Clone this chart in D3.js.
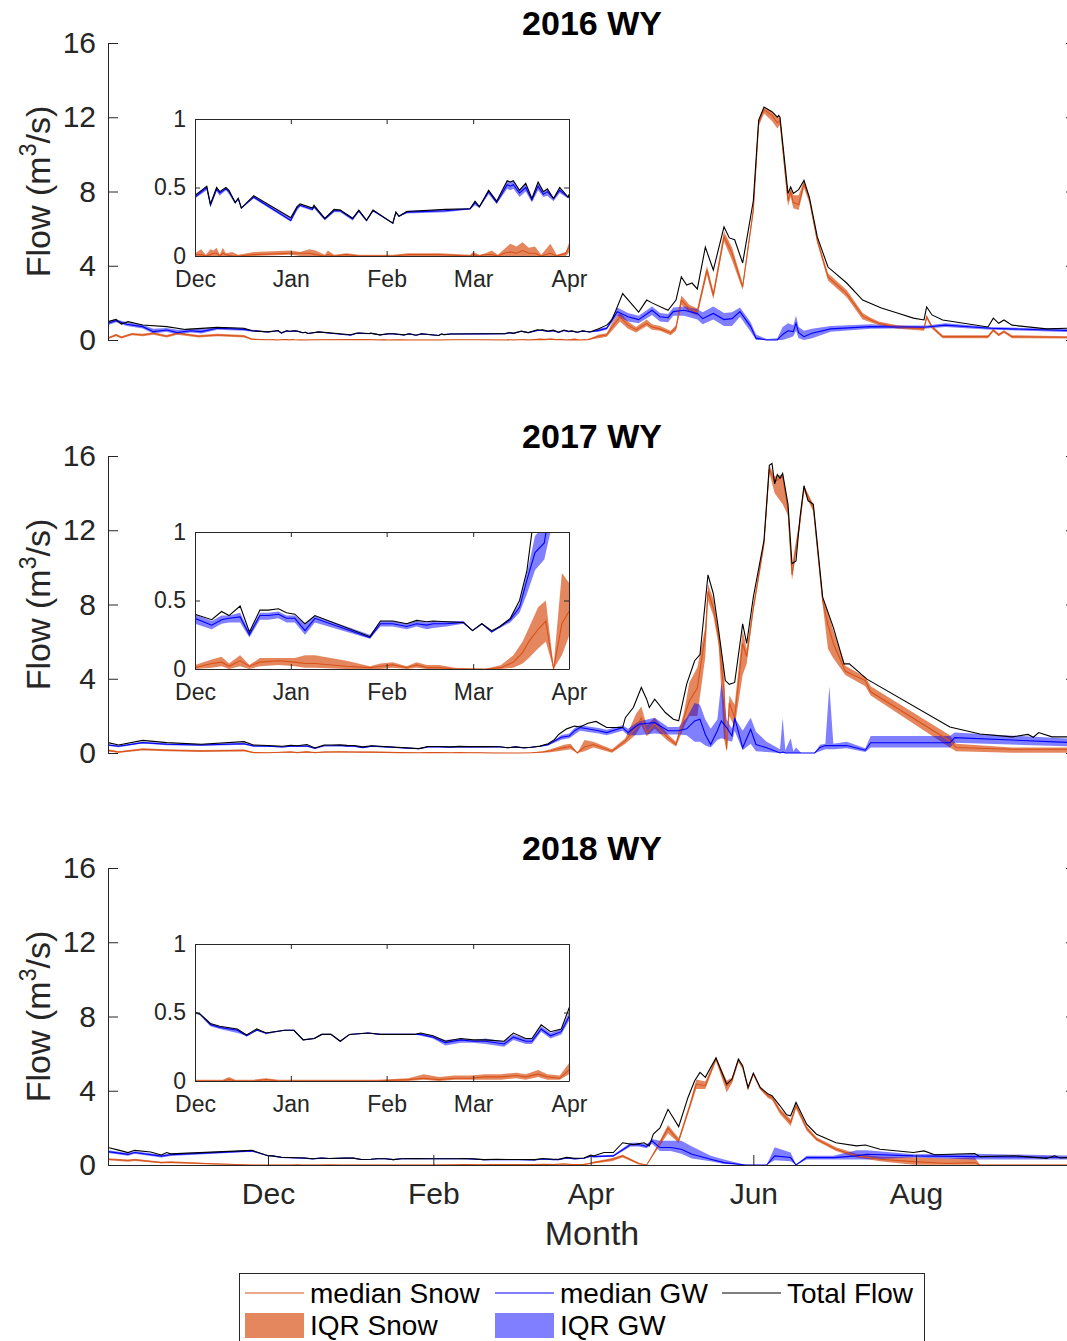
<!DOCTYPE html>
<html><head><meta charset="utf-8">
<script src="https://cdn.jsdelivr.net/npm/d3@7"></script>
<style>
body{margin:0;background:#fff}
svg{display:block}
text{font-family:"Liberation Sans",Arial,Helvetica,sans-serif;fill:#262626}
</style>
</head><body>
<svg id="c" width="1067" height="1341"></svg>
<script>
// ---- tick labels / categories ----
const titles = ["2016 WY", "2017 WY", "2018 WY"];
const monthTickDays = [61, 123, 182, 243, 304];
const monthTickLabels = ["Dec", "Feb", "Apr", "Jun", "Aug"];
const insetTickDays = [61, 92, 123, 151, 182];
const insetTickLabels = ["Dec", "Jan", "Feb", "Mar", "Apr"];
const yTickValues = [0, 4, 8, 12, 16];
const insetYTickValues = [0, 0.5, 1];
const insetYTickLabels = ["0", "0.5", "1"];
const legendLabels = ["median Snow", "median GW", "Total Flow", "IQR Snow", "IQR GW"];

// ---- data: day of water year (1 = Oct 1) ----
// total: [day, flow]; snow / gw: [day, q25, median, q75]
const total2016 = [[1,0.99],[4,1.11],[6,0.86],[8.5,0.99],[14,0.81],[23,0.72],[30,0.57],[42,0.68],[52,0.63],[55,0.5],
[61,0.44],[64.8,0.51],[66,0.38],[68,0.50],[69,0.47],[71,0.50],[72,0.48],[74,0.39],[75,0.42],[76,0.35],[80,0.44],[92,0.28],[94,0.36],[95,0.38],[99,0.35],[99.5,0.37],[103,0.275],[106,0.34],[108,0.335],[112,0.275],[114,0.335],[116.5,0.26],[118.6,0.335],[125,0.24],[126,0.32],[127,0.29],[129.5,0.325],[142,0.34],[150,0.345],[151.6,0.40],[153,0.36],[156,0.48],[158.6,0.40],[162,0.55],[163,0.54],[164,0.55],[166,0.48],[168,0.53],[170,0.42],[172,0.54],[173.7,0.47],[175,0.49],[177,0.42],[179,0.50],[181.7,0.43],
[185,0.6],[188,0.8],[190,1.08],[194,2.5],[200,1.5],[203,2.15],[205,2.0],[211,1.6],[214,2.15],[216,3.4],[218,2.96],[220,3.07],[222,2.75],[225,5.0],[228,3.77],[232,6.1],[234,5.5],[236,5.4],[239,4.15],[243,7.5],[245,11.85],[247,12.55],[250,12.3],[252,12.0],[252.5,12.1],[253,12.0],[256,7.9],[257,8.25],[258,7.9],[260,8.1],[262,8.6],[264,7.7],[267,5.55],[271,3.93],[278,3.07],[284,2.15],[291,1.72],[297,1.45],[303,1.18],[307,1.08],[308,1.78],[310,1.35],[314,1.08],[331,0.7],[333,1.18],[335,0.9],[337,1.08],[340,0.8],[353,0.6],[364,0.65]];

const snow2016 = [[1,0.05,0.09,0.15],[4,0.2,0.27,0.33],[6,0.08,0.14,0.2],[10,0.25,0.32,0.38],[14,0.2,0.27,0.33],[18,0.28,0.36,0.42],[23,0.13,0.2,0.27],[27,0.28,0.36,0.42],[35,0.13,0.2,0.27],[42,0.2,0.27,0.33],[52,0.13,0.2,0.27],[55,0.0,0.04,0.08],
[61,0,0.01,0.02],[63,0,0.01,0.05],[64.5,0,0,0.01],[66,0,0.01,0.05],[67,0,0.02,0.04],[68,0,0.02,0.06],[69,0,0,0.01],[70,0,0.02,0.06],[71,0,0.01,0.02],[73,0,0,0.03],[75,0,0,0.01],[80,0,0.01,0.03],[92,0.01,0.02,0.04],[95,0,0.02,0.03],[98,0,0.02,0.05],[100,0,0.01,0.04],[103,0,0,0.01],[104,0,0.01,0.04],[106,0,0,0.01],[110,0,0.01,0.02],[114,0,0,0.01],[125,0,0,0.01],[130,0,0.01,0.02],[140,0,0.01,0.02],[150,0,0,0.01],[151,0,0.01,0.03],[153,0,0,0.01],[155,0,0.01,0.02],[157,0,0.01,0.04],[159,0,0,0.01],[161,0,0.02,0.05],[163,0,0.03,0.09],[165,0,0.02,0.07],[167,0,0.04,0.1],[169,0,0.02,0.06],[171,0,0.02,0.07],[173,0,0,0.01],[176,0,0.02,0.09],[178,0,0,0.01],[181,0,0.02,0.03],
[185,0.1,0.2,0.3],[188,0.18,0.27,0.36],[190,0.5,0.7,0.9],[193,1.0,1.25,1.5],[196,0.6,0.8,1.0],[199,0.4,0.54,0.7],[203,0.75,0.9,1.1],[205,0.55,0.7,0.85],[208,0.5,0.6,0.75],[212,0.25,0.38,0.5],[214,0.5,0.65,0.8],[216,1.9,2.15,2.4],[219,1.5,1.7,1.9],[222,1.3,1.5,1.7],[225.6,3.5,3.77,4.0],[228,2.2,2.4,2.65],[232,5.3,5.57,5.85],[235,4.3,4.67,5.0],[239,2.7,2.87,3.05],[243,6.8,7.0,7.2],[245,11.5,11.7,11.85],[247,12.2,12.4,12.55],[250,11.8,12.1,12.3],[252,11.4,11.7,12.0],[253,11.6,11.8,12.0],[256,7.2,7.5,7.9],[257,7.7,8.0,8.2],[258,7.1,7.4,7.8],[260,7.0,7.3,7.8],[262,8.2,8.4,8.6],[264,7.4,7.6,7.7],[267,5.2,5.35,5.5],[271,3.2,3.4,3.6],[278,2.3,2.5,2.7],[284,1.1,1.3,1.45],[287,0.95,1.08,1.2],[290,0.8,0.9,1.0],[297,0.6,0.7,0.8],[307,0.5,0.6,0.7],[308,1.15,1.25,1.35],[310,0.6,0.7,0.8],[314,0.1,0.18,0.26],[331,0.1,0.18,0.26],[333,0.45,0.54,0.6],[335,0.2,0.27,0.35],[337,0.38,0.45,0.52],[340,0.1,0.18,0.26],[364,0.08,0.14,0.2]];

const gw2016 = [[1,0.8,0.9,1.0],[4,0.95,1.04,1.12],[8,0.75,0.85,0.95],[14,0.62,0.72,0.82],[18,0.35,0.45,0.6],[23,0.45,0.54,0.65],[27,0.3,0.4,0.55],[32,0.4,0.5,0.6],[36,0.35,0.45,0.6],[42,0.55,0.63,0.7],[52,0.5,0.57,0.63],[55,0.45,0.5,0.55],
[61,0.42,0.43,0.45],[64.8,0.48,0.50,0.51],[66,0.36,0.37,0.38],[68,0.47,0.49,0.50],[69,0.44,0.46,0.47],[71,0.48,0.49,0.50],[72,0.45,0.47,0.48],[74,0.38,0.39,0.39],[75,0.41,0.42,0.42],[76,0.35,0.35,0.35],[80,0.42,0.43,0.44],[92,0.25,0.26,0.28],[94,0.33,0.35,0.36],[95,0.36,0.37,0.38],[99,0.33,0.34,0.35],[99.5,0.35,0.36,0.37],[103,0.26,0.27,0.28],[106,0.32,0.33,0.34],[108,0.32,0.33,0.34],[112,0.26,0.27,0.28],[114,0.32,0.33,0.34],[116.5,0.25,0.26,0.26],[118.6,0.33,0.33,0.34],[125,0.24,0.24,0.24],[126,0.31,0.32,0.32],[127,0.29,0.29,0.29],[129.5,0.31,0.32,0.33],[142,0.32,0.33,0.34],[150,0.34,0.345,0.35],[151.6,0.37,0.39,0.40],[153,0.35,0.36,0.36],[156,0.45,0.47,0.48],[158.6,0.38,0.39,0.40],[162,0.49,0.52,0.55],[163,0.48,0.51,0.54],[164,0.49,0.52,0.55],[166,0.43,0.46,0.48],[168,0.47,0.50,0.53],[170,0.39,0.41,0.42],[172,0.48,0.51,0.54],[173.7,0.43,0.45,0.47],[175,0.44,0.47,0.49],[177,0.40,0.42,0.42],[179,0.46,0.48,0.50],[181.7,0.42,0.43,0.43],
[185,0.45,0.52,0.6],[188,0.55,0.63,0.7],[192,1.3,1.53,1.75],[196,1.0,1.25,1.45],[200,0.9,1.1,1.3],[205,1.35,1.6,1.8],[208,1.0,1.25,1.45],[211,0.95,1.2,1.4],[213,1.3,1.53,1.75],[217,1.3,1.6,1.8],[222,1.1,1.43,1.65],[224,0.85,1.15,1.5],[228,1.1,1.43,1.8],[232,0.75,1.1,1.45],[235,0.75,1.15,1.5],[238,1.25,1.53,1.75],[242,0.45,0.72,0.95],[244,0,0.1,0.3],[248,0,0,0.05],[252,0,0,0.1],[254,0,0.3,0.7],[256,0.1,0.5,0.9],[258,0.2,0.45,0.8],[259,0.5,0.9,1.3],[260,0.1,0.4,0.7],[262,0,0.18,0.5],[265,0.1,0.36,0.6],[272,0.45,0.6,0.75],[287,0.6,0.72,0.85],[297,0.62,0.7,0.78],[308,0.62,0.7,0.78],[315,0.7,0.8,0.9],[332,0.55,0.63,0.7],[364,0.42,0.5,0.58]];

const total2017 = [[1,0.56],[5,0.43],[14,0.68],[23,0.56],[36,0.47],[52,0.61],[55.5,0.43],
[61,0.40],[66.4,0.36],[69.6,0.42],[72,0.39],[75.6,0.46],[78.6,0.27],[82,0.43],[84.7,0.43],[88,0.44],[90.6,0.41],[93.3,0.40],[96.6,0.33],[99.8,0.39],[117.6,0.236],[121,0.35],[125,0.35],[129.5,0.33],[132.7,0.355],[136,0.345],[138,0.35],[142.4,0.345],[147.8,0.34],[150.8,0.28],[153.8,0.33],[157,0.28],[159.7,0.31],[163,0.37],[166,0.50],[168.4,0.72],[170,1.0],[173,1.3],[176,1.45],[178,1.4],
[181,1.6],[184,1.7],[188,1.37],[194,1.37],[195,1.9],[198,2.45],[201,3.53],[203,2.9],[204,2.45],[206,2.9],[210,2.18],[213,1.82],[215,1.73],[218,3.71],[221,4.97],[223,5.3],[226,9.6],[228,8.58],[230,6.6],[232.5,3.9],[234,3.7],[236,3.8],[239,6.96],[240.5,5.9],[243,8.4],[247,11.46],[249,15.5],[250,15.6],[251,14.5],[252,15.0],[253,14.8],[254,15.06],[256,13.4],[257.5,10.2],[259,10.35],[260.5,12.7],[262,14.4],[263.5,13.6],[265.5,13.4],[269,8.4],[273,6.77],[277,4.8],[279,4.8],[285.6,3.98],[316.7,1.4],[328,1.02],[340,0.87],[346,1.0],[348,0.85],[350,1.1],[355,0.87],[364,0.87]];

const snow2017 = [[1,0.08,0.14,0.2],[5,0.02,0.05,0.1],[14,0.14,0.2,0.26],[23,0.1,0.15,0.2],[36,0.06,0.11,0.16],[52,0.09,0.14,0.19],[55.5,0,0.02,0.05],
[61,0,0.01,0.03],[66.4,0.01,0.04,0.07],[69.6,0.02,0.05,0.09],[72,0,0.02,0.04],[75.6,0.02,0.06,0.1],[78.6,0,0.02,0.03],[82,0.02,0.05,0.08],[88,0.03,0.06,0.08],[93.3,0.02,0.05,0.08],[96.6,0.01,0.04,0.1],[99.8,0.01,0.04,0.1],[110,0,0.02,0.06],[117.6,0,0.01,0.02],[121,0,0.02,0.04],[125,0.01,0.03,0.05],[129.5,0,0.01,0.02],[132.7,0.01,0.03,0.05],[136,0,0.01,0.03],[140,0,0.01,0.03],[145,0,0,0.01],[155,0,0,0],[160,0,0.01,0.03],[164,0.01,0.05,0.1],[167,0.04,0.12,0.2],[169,0.08,0.2,0.3],[172,0.15,0.29,0.45],[174.5,0.2,0.35,0.5],[177,0,0,0.02],[179.7,0.1,0.33,0.7],
[183,0.3,0.46,0.6],[190,0.02,0.1,0.2],[195,0.5,0.65,0.8],[199,1.0,1.37,2.1],[201,1.5,1.9,2.5],[203,0.9,1.1,1.5],[206,1.3,1.55,1.9],[211,0.65,0.83,1.0],[214,0.35,0.46,0.6],[217,1.4,1.9,2.2],[219,2.0,2.8,3.8],[222,2.0,3.5,4.6],[225,5.2,6.4,6.8],[226,8.2,8.7,9.1],[228,7.4,7.8,8.3],[230,5.8,6.2,6.6],[232,0.8,3.3,4.6],[233,0.05,0.2,0.6],[234,2.0,2.7,3.1],[236,1.4,1.9,2.6],[239,4.2,5.9,6.6],[240.5,4.8,5.2,5.6],[243,7.6,7.8,8.0],[247,11.1,11.3,11.5],[249,15.1,15.3,15.5],[251,14.0,14.6,14.9],[254,13.4,14.9,15.0],[256,12.8,13.1,13.3],[257.5,9.3,9.6,10.1],[260.5,12.2,12.5,12.7],[262,14.1,14.3,14.4],[265.5,13.0,13.2,13.4],[269,8.0,8.2,8.4],[271,5.6,6.9,7.6],[273,5.1,5.9,6.6],[277.5,4.2,4.4,4.7],[285,3.6,3.9,4.1],[287,3.1,3.3,3.6],[316.7,0.3,0.65,0.95],[319,0.1,0.3,0.5],[340,0.02,0.2,0.3],[364,0.02,0.2,0.3]];

const gw2017 = [[1,0.38,0.43,0.48],[5,0.31,0.36,0.41],[14,0.51,0.56,0.61],[23,0.42,0.47,0.52],[36,0.38,0.43,0.48],[52,0.45,0.5,0.55],[55.5,0.33,0.38,0.42],
[61,0.33,0.37,0.40],[66.4,0.29,0.32,0.35],[69.6,0.33,0.36,0.39],[72,0.34,0.37,0.39],[75.6,0.34,0.38,0.41],[78.6,0.23,0.25,0.27],[82,0.36,0.39,0.41],[84.7,0.36,0.39,0.41],[88,0.37,0.40,0.42],[90.6,0.34,0.37,0.39],[93.3,0.34,0.37,0.39],[96.6,0.25,0.28,0.33],[99.8,0.34,0.37,0.39],[117.6,0.22,0.23,0.25],[121,0.31,0.33,0.35],[125,0.31,0.33,0.35],[129.5,0.29,0.31,0.33],[132.7,0.31,0.33,0.35],[136,0.29,0.32,0.34],[138,0.30,0.33,0.35],[142.4,0.31,0.33,0.35],[147.8,0.33,0.34,0.35],[150.8,0.28,0.28,0.28],[153.8,0.33,0.33,0.33],[157,0.27,0.27,0.27],[159.7,0.30,0.31,0.32],[163,0.34,0.36,0.37],[166,0.41,0.45,0.48],[168.4,0.55,0.65,0.70],[171,0.72,0.85,0.97],[174,0.80,0.92,1.05],[176,1.0,1.2,1.35],[178,1.2,1.37,1.5],
[185,1.05,1.2,1.35],[188,0.95,1.1,1.25],[194,1.2,1.37,1.5],[196,0.95,1.1,1.3],[200,0.95,1.55,1.7],[206,1.05,1.64,1.9],[211,1.0,1.2,1.4],[215,1.0,1.2,1.4],[218,0.95,1.3,1.9],[221,0.6,1.73,2.7],[223,0.6,1.82,2.6],[225,0.4,1.0,1.8],[227,0.3,0.46,1.3],[229.5,0.7,1.2,1.8],[231,0.8,1.73,3.8],[233,0.7,1.37,1.8],[235,0.6,0.92,1.3],[236,1.2,1.9,1.9],[239,0.15,0.28,1.2],[242,0.5,1.28,1.9],[244,0.1,0.46,1.15],[248,0.05,0.28,0.6],[253,0,0,0.2],[254,0,0.05,1.9],[255,0,0,0.15],[257,0,0,0.8],[258,0,0,0.1],[259,0,0,0.3],[261,0,0,0],[266,0,0,0],[268,0.1,0.3,0.45],[270,0.2,0.4,0.5],[271.5,0.2,0.4,3.6],[273,0.2,0.4,0.5],[278,0.25,0.4,0.6],[285,0.05,0.15,0.25],[287,0.3,0.55,0.92],[316.7,0.3,0.55,0.92],[318.5,0.55,0.83,1.1],[364,0.35,0.55,0.75]];

const total2018 = [[1,0.94],[5,0.8],[8.5,0.67],[11,0.79],[17,0.7],[21,0.54],[23,0.67],[24.5,0.6],[55,0.79],
[61,0.50],[62.6,0.49],[66,0.42],[69,0.40],[74.7,0.38],[77.7,0.336],[81,0.38],[84,0.35],[90,0.37],[93,0.37],[96,0.30],[99.6,0.31],[102,0.34],[105,0.34],[108,0.29],[111,0.34],[117,0.35],[121,0.34],[132,0.34],[134,0.35],[138,0.33],[142,0.29],[147,0.31],[151,0.30],[155,0.30],[161,0.29],[164,0.35],[168,0.31],[170,0.31],[173,0.41],[176,0.36],[179.5,0.38],[182,0.53],
[183,0.49],[187,0.67],[190.5,0.67],[194,1.2],[198,1.1],[202,1.2],[204,1.03],[205.5,1.67],[208,2.0],[211,3.0],[215,2.07],[218.5,3.64],[221,4.54],[223,4.99],[225,4.72],[229,5.77],[233,4.36],[235,4.63],[237.4,5.71],[239,5.35],[241,4.18],[243,4.95],[245.6,4.18],[248.6,3.82],[250,3.73],[253,3.19],[255.5,2.7],[257,2.65],[259,3.37],[263,2.2],[266.7,1.66],[274,1.2],[281.7,1.03],[285,1.08],[290.5,0.85],[303,0.67],[307,0.76],[311,0.55],[326,0.62],[328,0.45],[341,0.5],[353,0.36],[356,0.5],[358,0.38],[364,0.42]];

const snow2018 = [[1,0.25,0.31,0.37],[8.5,0.18,0.24,0.3],[11,0.22,0.28,0.34],[21,0.09,0.13,0.18],[24.5,0.1,0.15,0.2],[40,0.03,0.07,0.1],[55,0,0,0.02],
[61,0,0,0.01],[70,0,0,0.01],[72,0,0.01,0.03],[74,0,0,0.01],[80,0,0,0.01],[84,0,0.01,0.02],[88,0,0,0.01],[120,0,0,0.01],[130,0,0.01,0.02],[135,0.01,0.02,0.05],[140,0,0.01,0.03],[145,0.01,0.02,0.04],[150,0.01,0.02,0.04],[155,0.01,0.03,0.05],[160,0.01,0.03,0.05],[165,0.02,0.04,0.06],[168,0.01,0.03,0.05],[172,0.03,0.05,0.08],[175,0.01,0.03,0.05],[179,0.01,0.02,0.04],[182,0.05,0.08,0.13],
[183,0.08,0.13,0.18],[190,0.2,0.3,0.38],[194,0.4,0.49,0.55],[200,0.03,0.08,0.12],[203,0,0,0.02],[207,0.85,0.94,1.05],[211,1.7,1.98,2.15],[215,1.2,1.3,1.45],[219,2.95,3.1,3.25],[221.6,4.1,4.36,4.6],[225,4.1,4.27,4.5],[229,5.6,5.71,5.8],[233,3.9,4.27,4.55],[235,4.4,4.54,4.7],[237.4,5.55,5.62,5.7],[239,5.18,5.26,5.32],[241,4.05,4.12,4.18],[243,4.85,4.9,4.95],[245.6,4.05,4.12,4.18],[248.6,3.6,3.72,3.8],[250,3.5,3.64,3.75],[253,2.75,2.9,3.05],[257,2.1,2.29,2.45],[259,3.05,3.19,3.3],[263,1.85,1.98,2.1],[266.7,1.3,1.39,1.5],[274,0.75,0.85,0.95],[281.7,0.4,0.49,0.6],[290.5,0.2,0.31,0.45],[303,0.02,0.18,0.4],[316,0.02,0.08,0.35],[326,0.02,0.13,0.4],[328,0,0,0.02],[364,0,0,0.02]];

const gw2018 = [[1,0.65,0.72,0.8],[8.5,0.5,0.57,0.64],[11,0.6,0.67,0.74],[21,0.4,0.48,0.55],[24.5,0.48,0.55,0.62],[55,0.72,0.76,0.79],
[61,0.49,0.50,0.50],[62.6,0.48,0.49,0.49],[66,0.40,0.41,0.42],[69,0.38,0.39,0.40],[74.7,0.35,0.37,0.38],[77.7,0.33,0.33,0.34],[81,0.37,0.37,0.38],[84,0.34,0.35,0.35],[90,0.37,0.37,0.37],[93,0.37,0.37,0.37],[96,0.30,0.30,0.30],[99.6,0.31,0.31,0.31],[102,0.34,0.34,0.34],[105,0.34,0.34,0.34],[108,0.29,0.29,0.29],[111,0.34,0.34,0.34],[117,0.35,0.35,0.35],[121,0.34,0.34,0.34],[132,0.34,0.34,0.34],[134,0.33,0.34,0.35],[138,0.31,0.32,0.33],[142,0.26,0.28,0.30],[147,0.28,0.30,0.31],[151,0.28,0.29,0.30],[155,0.27,0.29,0.31],[161,0.25,0.27,0.29],[164,0.30,0.32,0.34],[168,0.27,0.29,0.31],[170,0.27,0.29,0.31],[173,0.36,0.38,0.40],[176,0.31,0.33,0.35],[179.5,0.34,0.36,0.38],[182,0.44,0.47,0.50],
[183,0.4,0.45,0.5],[190.5,0.44,0.49,0.55],[197,1.0,1.1,1.2],[200,1.0,1.1,1.2],[203,0.9,1.0,1.1],[205,1.15,1.3,1.4],[208,0.75,0.94,1.3],[212,0.75,0.94,1.3],[216,0.6,0.85,1.3],[220,0.35,0.58,1.0],[227,0.2,0.31,0.5],[232,0.05,0.13,0.3],[240,0,0,0.02],[248,0,0,0],[251,0.25,0.49,0.95],[257,0.2,0.4,0.67],[259,0,0,0.02],[263,0.3,0.4,0.5],[273,0.3,0.4,0.5],[281.7,0.3,0.49,0.8],[285.6,0.3,0.58,0.8],[303,0.4,0.49,0.58],[326,0.3,0.45,0.6],[364,0.3,0.4,0.5]];

// ---- styling ----
const COL_SNOW = "#D95319", COL_GW = "#0000FF", COL_TOT = "#000000", AX = "#262626";
const panels = [
  {title: titles[0], total: total2016, snow: snow2016, gw: gw2016},
  {title: titles[1], total: total2017, snow: snow2017, gw: gw2017},
  {title: titles[2], total: total2018, snow: snow2018, gw: gw2018}
];

const svg = d3.select("#c");
const X0 = 108, X1 = 1076, H = 297;
const tops = [43, 456, 868];
const x = d3.scaleLinear().domain([1, 364]).range([X0, X1]);
const xi = d3.scaleLinear().domain([61, 182]).range([195, 569]);
const IH = 137, IOFF = 76;

function drawSeries(g, xs, ys, p) {
  const area = d3.area().x(d => xs(d[0])).y0(d => ys(d[1])).y1(d => ys(d[3]));
  const mid = d3.line().x(d => xs(d[0])).y(d => ys(d[2]));
  const tot = d3.line().x(d => xs(d[0])).y(d => ys(d[1]));
  g.append("path").attr("d", area(p.snow)).attr("fill", COL_SNOW).attr("fill-opacity", 0.7).attr("stroke", "none");
  g.append("path").attr("d", area(p.gw)).attr("fill", COL_GW).attr("fill-opacity", 0.5).attr("stroke", "none");
  g.append("path").attr("d", mid(p.snow)).attr("fill", "none").attr("stroke", COL_SNOW).attr("stroke-width", 1.1);
  g.append("path").attr("d", mid(p.gw)).attr("fill", "none").attr("stroke", COL_GW).attr("stroke-width", 1.1);
  g.append("path").attr("d", tot(p.total)).attr("fill", "none").attr("stroke", COL_TOT).attr("stroke-width", 1.1);
}

function styleAxis(sel, fs) {
  sel.select(".domain").attr("stroke", AX).attr("stroke-width", 1);
  sel.selectAll(".tick line").attr("stroke", AX).attr("stroke-width", 1);
  sel.selectAll("text").attr("font-size", fs).attr("fill", AX)
     .attr("font-family", '"Liberation Sans", Arial, sans-serif');
}

panels.forEach((p, i) => {
  const top = tops[i];
  const y = d3.scaleLinear().domain([0, 16]).range([top + H, top]);
  const clipId = "clip" + i;
  svg.append("clipPath").attr("id", clipId).append("rect")
     .attr("x", X0).attr("y", top - 2).attr("width", X1 - X0).attr("height", H + 3);
  const g = svg.append("g").attr("clip-path", `url(#${clipId})`);
  drawSeries(g, x, y, p);

  // left axis
  const la = svg.append("g").attr("transform", `translate(${X0},0)`)
    .call(d3.axisLeft(y).tickValues(yTickValues).tickSizeInner(-10).tickSizeOuter(0).tickPadding(12).tickFormat(d3.format("d")));
  styleAxis(la, 30);
  // right axis (ticks only)
  const ra = svg.append("g").attr("transform", `translate(${X1},0)`)
    .call(d3.axisRight(y).tickValues(yTickValues).tickSizeInner(-10).tickSizeOuter(0).tickFormat(""));
  styleAxis(ra, 30);

  // bottom axis only on last panel
  if (i === 2) {
    const ba = svg.append("g").attr("transform", `translate(0,${top + H})`)
      .call(d3.axisBottom(x).tickValues(monthTickDays).tickSizeInner(-10).tickSizeOuter(0).tickPadding(18)
        .tickFormat((d, k) => monthTickLabels[k]));
    styleAxis(ba, 30);
    svg.append("text").attr("x", (X0 + X1) / 2).attr("y", top + H + 80).attr("text-anchor", "middle")
       .attr("font-size", 34).text("Month");
  }

  // title
  svg.append("text").attr("x", (X0 + X1) / 2).attr("y", top - 8).attr("text-anchor", "middle")
     .attr("font-size", 34).attr("font-weight", "bold").style("fill", "#000").text(p.title);

  // y label
  const yl = svg.append("text").attr("transform", `translate(50,${top + H / 2}) rotate(-90)`)
     .attr("text-anchor", "middle").attr("font-size", 34);
  yl.append("tspan").text("Flow (m");
  yl.append("tspan").attr("font-size", 23).attr("dy", -14).text("3");
  yl.append("tspan").attr("dy", 14).text("/s)");

  // inset
  const it = top + IOFF;
  const yi = d3.scaleLinear().domain([0, 1]).range([it + IH, it]);
  svg.append("rect").attr("x", 195).attr("y", it).attr("width", 374).attr("height", IH).attr("fill", "#fff");
  const iclip = "iclip" + i;
  svg.append("clipPath").attr("id", iclip).append("rect")
     .attr("x", 195).attr("y", it).attr("width", 374).attr("height", IH);
  const gi = svg.append("g").attr("clip-path", `url(#${iclip})`);
  drawSeries(gi, xi, yi, p);

  const il = svg.append("g").attr("transform", "translate(195,0)")
    .call(d3.axisLeft(yi).tickValues(insetYTickValues).tickSizeInner(-5).tickSizeOuter(0).tickPadding(9)
      .tickFormat((d, k) => insetYTickLabels[k]));
  styleAxis(il, 23);
  const ir = svg.append("g").attr("transform", "translate(569,0)")
    .call(d3.axisRight(yi).tickValues(insetYTickValues).tickSizeInner(-5).tickSizeOuter(0).tickFormat(""));
  styleAxis(ir, 23);
  const ib = svg.append("g").attr("transform", `translate(0,${it + IH})`)
    .call(d3.axisBottom(xi).tickValues(insetTickDays).tickSizeInner(-5).tickSizeOuter(0).tickPadding(15)
      .tickFormat((d, k) => insetTickLabels[k]));
  styleAxis(ib, 23);
  const itp = svg.append("g").attr("transform", `translate(0,${it})`)
    .call(d3.axisTop(xi).tickValues(insetTickDays).tickSizeInner(-5).tickSizeOuter(0).tickFormat(""));
  styleAxis(itp, 23);
});

// legend
const lg = svg.append("g");
lg.append("rect").attr("x", 239.5).attr("y", 1273.5).attr("width", 685).attr("height", 80)
  .attr("fill", "#fff").attr("stroke", AX).attr("stroke-width", 1);
const legendRow1 = [
  {x: 245, col: COL_SNOW, label: legendLabels[0]},
  {x: 495, col: COL_GW, label: legendLabels[1]},
  {x: 722, col: COL_TOT, label: legendLabels[2]}
];
legendRow1.forEach(e => {
  lg.append("line").attr("x1", e.x).attr("x2", e.x + 59).attr("y1", 1293).attr("y2", 1293)
    .attr("stroke", e.col).attr("stroke-width", 1.1);
  lg.append("text").attr("x", e.x + 65).attr("y", 1303).attr("font-size", 28).style("fill", "#000").text(e.label);
});
const legendRow2 = [
  {x: 245, col: COL_SNOW, op: 0.7, label: legendLabels[3]},
  {x: 495, col: COL_GW, op: 0.5, label: legendLabels[4]}
];
legendRow2.forEach(e => {
  lg.append("rect").attr("x", e.x).attr("y", 1313).attr("width", 59).attr("height", 25)
    .attr("fill", e.col).attr("fill-opacity", e.op);
  lg.append("text").attr("x", e.x + 65).attr("y", 1335).attr("font-size", 28).style("fill", "#000").text(e.label);
});
</script>
</body></html>
